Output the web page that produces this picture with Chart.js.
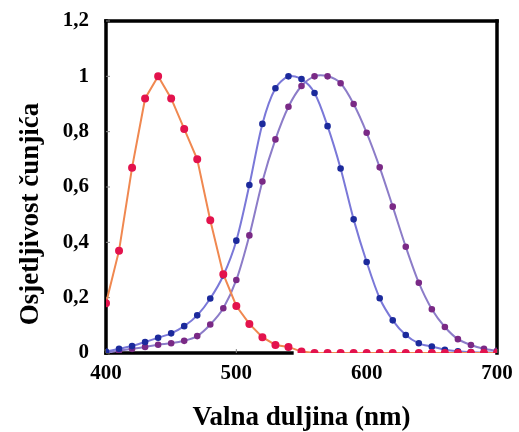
<!DOCTYPE html>
<html>
<head>
<meta charset="utf-8">
<script src="https://cdn.jsdelivr.net/npm/chart.js@4"></script>
<style>
  html, body { margin: 0; padding: 0; background: #fff; }
  #wrap { width: 519px; height: 432px; }
</style>
</head>
<body>
<div id="wrap"><canvas id="graf"></canvas></div>
<script>
// valne duljine (nm), svakih 10 nm
const valneDuljine = [400, 410, 420, 430, 440, 450, 460, 470, 480, 490, 500, 510, 520, 530, 540, 550,
  560, 570, 580, 590, 600, 610, 620, 630, 640, 650, 660, 670, 680, 690, 700];

// S čunjići (crveni)
const sCunjici = [0.18, 0.37, 0.67, 0.92, 1.0, 0.92, 0.81, 0.70, 0.48, 0.285, 0.17, 0.105, 0.057, 0.029, 0.022, 0.005,
  0, 0, 0, 0, 0, 0, 0, 0, 0, 0, 0, 0, 0, 0, 0];

// M čunjići (plavi)
const mCunjici = [0.005, 0.015, 0.025, 0.04, 0.055, 0.071, 0.097, 0.136, 0.197, 0.28, 0.406, 0.607, 0.828, 0.957, 1.0, 0.99,
  0.94, 0.82, 0.667, 0.483, 0.329, 0.198, 0.118, 0.065, 0.035, 0.023, 0.012, 0.006, 0.003, 0.002, 0.001];

// L čunjići (ljubičasti)
const lCunjici = [0, 0.008, 0.015, 0.022, 0.03, 0.035, 0.044, 0.061, 0.103, 0.162, 0.264, 0.425, 0.62, 0.772, 0.89, 0.965,
  1.0, 1.0, 0.975, 0.90, 0.796, 0.671, 0.529, 0.384, 0.254, 0.158, 0.094, 0.05, 0.029, 0.015, 0.008];

const xTicks = [400, 500, 600, 700];
const yTicks = [0, 0.2, 0.4, 0.6, 0.8, 1, 1.2];
const yNaslov = "Osjetljivost čunjića";

function tocke(vrijednosti) {
  return valneDuljine.map((x, i) => ({ x: x, y: vrijednosti[i] }));
}

const font = "'Liberation Serif', 'Times New Roman', serif";

// okvir oko grafa (donja crta samo do ~545 nm kao na slici)
const okvir = {
  id: "okvir",
  beforeDatasetsDraw(chart) {
    const { ctx, chartArea: a, scales } = chart;
    const d = 3.5; // debljina okvira
    ctx.save();
    ctx.fillStyle = "#000";
    const kraj = scales.x.getPixelForValue(544);
    ctx.fillRect(a.left - d / 2, a.bottom - d / 2, kraj - a.left + d / 2, d);   // dolje
    ctx.fillRect(a.left - d / 2, a.top - d / 2, d, a.bottom - a.top + d);       // lijevo
    ctx.fillRect(a.left - d / 2, a.top - d / 2, a.right - a.left + d, d);       // gore
    ctx.fillRect(a.right - d / 2, a.top - d / 2, d, a.bottom - a.top + d);      // desno
    // male crtice prema unutra
    ctx.fillStyle = "#888";
    for (const v of yTicks) {
      const y = scales.y.getPixelForValue(v);
      ctx.fillRect(a.left, y - 0.5, 4, 1);
    }
    for (const v of xTicks) {
      const x = scales.x.getPixelForValue(v);
      ctx.fillRect(x - 0.5, a.bottom - 4, 1, 4);
    }
    // naslov y osi, malo niže od sredine kao na slici
    ctx.fillStyle = "#000";
    ctx.font = "bold 27px " + font;
    ctx.textAlign = "center";
    ctx.textBaseline = "middle";
    ctx.translate(31, 214);
    ctx.rotate(-Math.PI / 2);
    ctx.fillText(yNaslov, 0, 0);
    ctx.restore();
  }
};

new Chart(document.querySelector("#graf"), {
  type: "line",
  data: {
    datasets: [
      {
        data: tocke(sCunjici),
        borderColor: "#f08850",
        borderWidth: 2,
        pointBackgroundColor: "#e3134d",
        pointBorderColor: "#e3134d",
        pointRadius: 3,
        tension: 0
      },
      {
        data: tocke(mCunjici),
        borderColor: "#7a78d8",
        borderWidth: 2,
        pointBackgroundColor: "#1c2a9c",
        pointBorderColor: "#1c2a9c",
        pointRadius: 2.3,
        tension: 0.3
      },
      {
        data: tocke(lCunjici),
        borderColor: "#8c7cc8",
        borderWidth: 2,
        pointBackgroundColor: "#7a2a86",
        pointBorderColor: "#7a2a86",
        pointRadius: 2.3,
        tension: 0.3
      }
    ]
  },
  options: {
    responsive: true,
    maintainAspectRatio: false,
    animation: false,
    layout: { padding: { top: 21, right: 22, left: 0, bottom: 0 } },
    plugins: { legend: { display: false }, tooltip: { enabled: false } },
    scales: {
      x: {
        type: "linear",
        min: 400,
        max: 700,
        afterBuildTicks: s => { s.ticks = xTicks.map(v => ({ value: v })); },
        afterFit: s => { s.height = 79; s.paddingLeft = 0; s.paddingRight = 0; },
        grid: { display: false, drawTicks: false },
        border: { display: false },
        ticks: { color: "#000", padding: 8, font: { family: font, size: 21, weight: "bold" } },
        title: {
          display: true,
          text: "Valna duljina (nm)",
          color: "#000",
          padding: { top: 4, bottom: 0 },
          font: { family: font, size: 27, weight: "bold", lineHeight: 1 }
        }
      },
      y: {
        min: 0,
        max: 1.2,
        afterBuildTicks: s => { s.ticks = yTicks.map(v => ({ value: v })); },
        afterFit: s => { s.width = 106; s.paddingTop = 0; s.paddingBottom = 0; },
        grid: { display: false, drawTicks: false },
        border: { display: false },
        ticks: {
          color: "#000",
          padding: 17,
          font: { family: font, size: 21, weight: "bold" },
          callback: v => String(Math.round(v * 10) / 10).replace(".", ",")
        }
      }
    }
  },
  plugins: [okvir]
});
</script>
</body>
</html>
